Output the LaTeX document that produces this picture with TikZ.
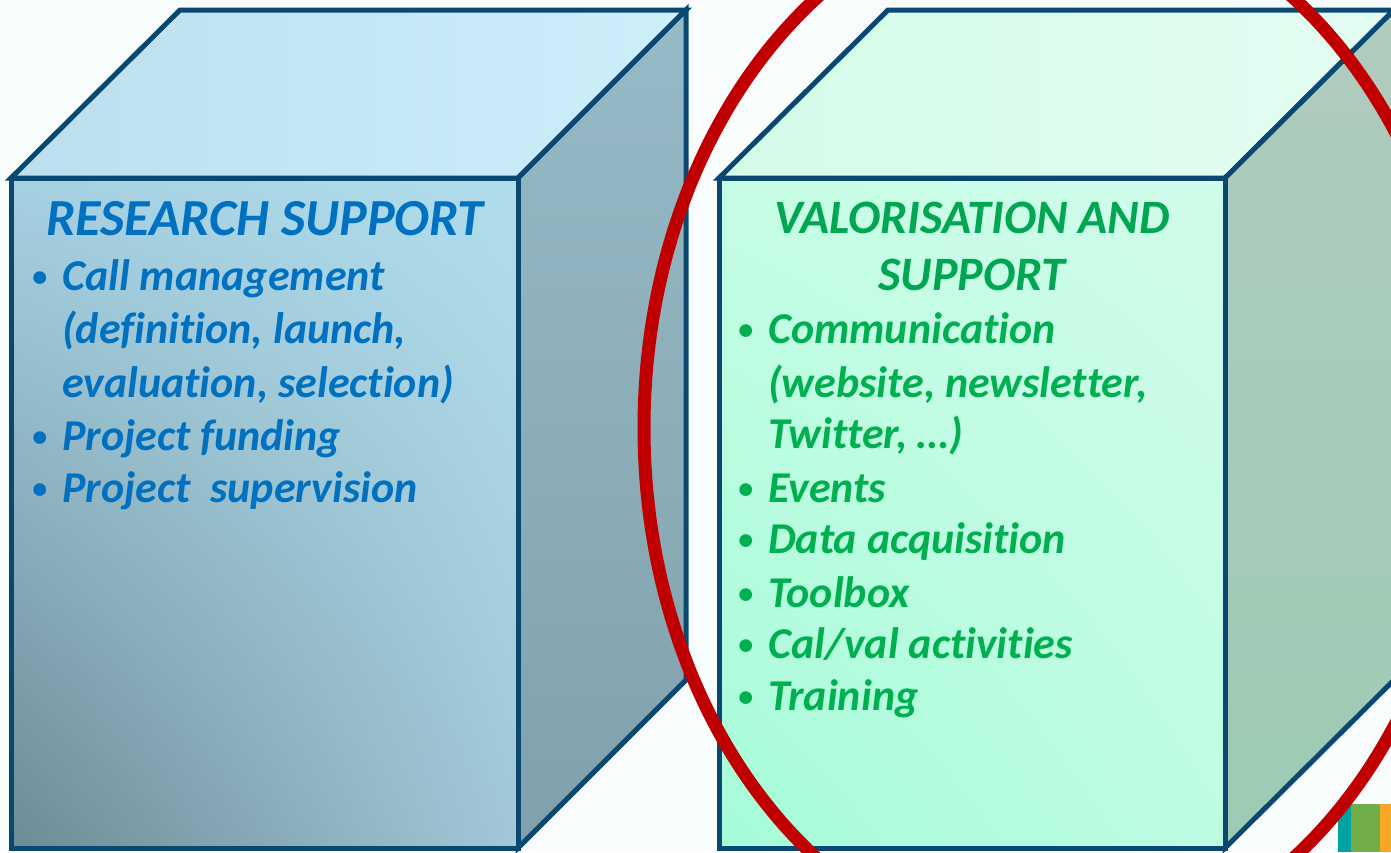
\documentclass[tikz,border=0pt]{standalone}
\usepackage{fontspec}
\setmainfont[Ligatures=NoCommon]{Carlito}
\usetikzlibrary{shadings}

\definecolor{bgwhite}{HTML}{F8FCFC}
\definecolor{cubeedge}{HTML}{0B4870}
\definecolor{resblue}{HTML}{0070C0}
\definecolor{valgreen}{HTML}{00B050}
\definecolor{valtitle}{HTML}{00A651}
\definecolor{ringred}{HTML}{C00000}
\definecolor{barteal}{HTML}{00A3A5}
\definecolor{bargreen}{HTML}{70AD47}
\definecolor{barorange}{HTML}{F5A623}
% research cube faces
\definecolor{restopL}{HTML}{BBDFEE}
\definecolor{restopR}{HTML}{CDEFFA}
\definecolor{ressideT}{HTML}{96BAC6}
\definecolor{ressideB}{HTML}{80A1AB}
\definecolor{resfrontUL}{HTML}{A6D1E3}
\definecolor{resfrontUR}{HTML}{B0DDEC}
\definecolor{resfrontLL}{HTML}{6D8B94}
\definecolor{resfrontLR}{HTML}{A2C8D8}
% valorisation cube faces
\definecolor{valtopL}{HTML}{D4FCE8}
\definecolor{valtopR}{HTML}{E4FCF2}
\definecolor{valsideT}{HTML}{B0CBBF}
\definecolor{valsideB}{HTML}{9CCBB3}
\definecolor{valfrontUL}{HTML}{C6FDE4}
\definecolor{valfrontUR}{HTML}{D0FCEA}
\definecolor{valfrontLL}{HTML}{A4FCD8}
\definecolor{valfrontLR}{HTML}{BEFCE2}

\tikzset{
  edge/.style={draw=cubeedge, line width=5pt, line join=miter},
  title/.style={anchor=base, inner sep=0pt,
    font=\fontsize{52}{60}\selectfont\bfseries\itshape},
  item/.style={anchor=base west, inner sep=0pt,
    font=\fontsize{44}{52}\selectfont\bfseries\itshape},
  ring/.style={draw=ringred, line width=13pt},
}
\newcommand{\bul}{\llap{\raisebox{4pt}{\fontsize{30}{30}\selectfont\upshape\textbullet}\hspace{15pt}}}

\begin{document}
\begin{tikzpicture}[x=1pt,y=-1pt]
  \useasboundingbox (0,0) rectangle (1391,852);
  \fill[bgwhite] (0,0) rectangle (1391,852);
  \clip (0,0) rectangle (1391,852);

  % research support cube
  \coordinate (res-a) at (11,178);
  \coordinate (res-b) at (518,178);
  \coordinate (res-c) at (518,848);
  \coordinate (res-d) at (11,848);
  \coordinate (res-e) at (180,10);
  \coordinate (res-f) at (686,10);
  \coordinate (res-g) at (686,680);
  \shadedraw[edge, left color=restopL, right color=restopR]
    (res-a) -- (res-e) -- (res-f) -- (res-b) -- cycle;
  \shadedraw[edge, top color=ressideT, bottom color=ressideB]
    (res-b) -- (res-f) -- (res-g) -- (res-c) -- cycle;
  \shadedraw[edge, upper left=resfrontUL, upper right=resfrontUR,
    lower left=resfrontLL, lower right=resfrontLR]
    (res-a) -- (res-b) -- (res-c) -- (res-d) -- cycle;

  % valorisation cube
  \coordinate (val-a) at (719,178);
  \coordinate (val-b) at (1225,178);
  \coordinate (val-c) at (1225,848);
  \coordinate (val-d) at (719,848);
  \coordinate (val-e) at (888,10);
  \coordinate (val-f) at (1394,10);
  \coordinate (val-g) at (1394,680);
  \shadedraw[edge, left color=valtopL, right color=valtopR]
    (val-a) -- (val-e) -- (val-f) -- (val-b) -- cycle;
  \shadedraw[edge, top color=valsideT, bottom color=valsideB]
    (val-b) -- (val-f) -- (val-g) -- (val-c) -- cycle;
  \shadedraw[edge, upper left=valfrontUL, upper right=valfrontUR,
    lower left=valfrontLL, lower right=valfrontLR]
    (val-a) -- (val-b) -- (val-c) -- (val-d) -- cycle;

  % texts
  \node[title, text=resblue] (res-title) at (265,235) {RESEARCH SUPPORT};
  \node[item, text=resblue] (res-1) at (62,290) {\bul Call management};
  \node[item, text=resblue] (res-1b) at (62,343) {(definition, launch,};
  \node[item, text=resblue] (res-1c) at (62,397) {evaluation, selection)};
  \node[item, text=resblue] (res-2) at (62,450) {\bul Project funding};
  \node[item, text=resblue] (res-3) at (62,502) {\bul Project\ \ supervision};

  \node[title, text=valtitle, font=\fontsize{48}{56}\selectfont\bfseries\itshape] (val-title) at (972,233) {VALORISATION AND};
  \node[title, text=valtitle, font=\fontsize{48}{56}\selectfont\bfseries\itshape] (val-title2) at (972,290) {SUPPORT};
  \node[item, text=valgreen] (val-1) at (768,343) {\bul Communication};
  \node[item, text=valgreen] (val-1b) at (768,397) {(website, newsletter,};
  \node[item, text=valgreen] (val-1c) at (768,448) {Twitter, …)};
  \node[item, text=valgreen] (val-2) at (768,502) {\bul Events};
  \node[item, text=valgreen] (val-3) at (768,553) {\bul Data acquisition};
  \node[item, text=valgreen] (val-4) at (768,607) {\bul Toolbox};
  \node[item, text=valgreen] (val-5) at (768,658) {\bul Cal/val activities};
  \node[item, text=valgreen] (val-6) at (768,710) {\bul Training};

  % corner bars
  \fill[barteal] (1338,804) rectangle (1351,852);
  \fill[bargreen] (1351,804) rectangle (1380,852);
  \fill[barorange] (1380,804) rectangle (1391,852);

  % highlight
  \draw[ring] (1055,428) ellipse [x radius=411, y radius=528];
\end{tikzpicture}
\end{document}
